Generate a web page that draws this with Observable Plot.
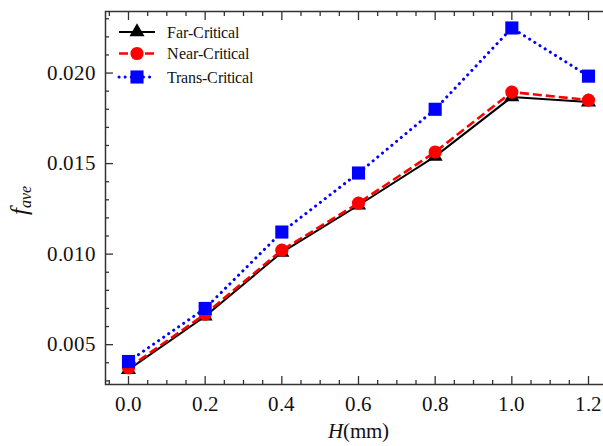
<!DOCTYPE html>
<html>
<head>
<meta charset="utf-8">
<script src="https://cdn.jsdelivr.net/npm/d3@7"></script>
<script src="https://cdn.jsdelivr.net/npm/@observablehq/plot@0.6"></script>
<style>
  @font-face { font-family: "RefSerif"; font-style: normal; font-weight: 400;
    src: local("Liberation Serif"), local("LiberationSerif"), local("LiberationSerif-Regular"), local("Times New Roman"); }
  @font-face { font-family: "RefSerif"; font-style: italic; font-weight: 400;
    src: local("Liberation Serif Italic"), local("LiberationSerif-Italic"), local("Times New Roman Italic"); }
  html, body { margin: 0; padding: 0; background: #fff; overflow: hidden; }
  #chart { width: 603px; height: 446px; overflow: hidden; position: relative; }
  #chart svg { display: block; max-width: none !important; }
  #chart svg text, #chart svg tspan { font-family: "RefSerif", "Liberation Serif", "DejaVu Serif", serif !important; }
</style>
</head>
<body>
<div id="chart"></div>
<script>
// ---- data ----
const H = [0.0, 0.2, 0.4, 0.6, 0.8, 1.0, 1.2];
const farCritical   = [0.00362, 0.00657, 0.01010, 0.01270, 0.01540, 0.01868, 0.01840];
const nearCritical  = [0.00372, 0.00669, 0.01022, 0.01282, 0.01564, 0.01895, 0.01851];
const transCritical = [0.00407, 0.00700, 0.01122, 0.01448, 0.01800, 0.02249, 0.01983];
const seriesNames = ["Far-Critical", "Near-Critical", "Trans-Critical"];

const xTicks = [0.0, 0.2, 0.4, 0.6, 0.8, 1.0, 1.2];
const xTickLabels = ["0.0", "0.2", "0.4", "0.6", "0.8", "1.0", "1.2"];
const xMinorTicks = [-0.05, 0.05, 0.1, 0.15, 0.25, 0.3, 0.35, 0.45, 0.5, 0.55, 0.65, 0.7, 0.75, 0.85, 0.9, 0.95, 1.05, 1.1, 1.15, 1.25];
const yTicks = [0.005, 0.010, 0.015, 0.020];
const yTickLabels = ["0.005", "0.010", "0.015", "0.020"];
const yMinorTicks = [0.003, 0.004, 0.006, 0.007, 0.008, 0.009, 0.011, 0.012, 0.013, 0.014, 0.016, 0.017, 0.018, 0.019, 0.021, 0.022, 0.023];

const rows = (vals) => H.map((h, i) => ({H: h, v: vals[i]}));
const far = rows(farCritical), near = rows(nearCritical), trans = rows(transCritical);

const AX = "#333";

const styles = [
  {color: "#000000", symbol: "triangle", r: 5.6, dash: null, width: 2, cap: "butt"},
  {color: "#ff0000", symbol: "circle", r: 6.6, dash: "9,4", width: 2.6, cap: "butt"},
  {color: "#0000ff", symbol: "square", r: 7.4, dash: "0.1,6", width: 3, cap: "round"}
];
const datasets = [far, near, trans];

const marks = [];
datasets.forEach((d, k) => {
  const s = styles[k];
  marks.push(Plot.line(d, {x: "H", y: "v", stroke: s.color, strokeWidth: s.width,
    strokeDasharray: s.dash, strokeLinecap: s.cap}));
  marks.push(Plot.dot(d, {x: "H", y: "v", symbol: () => s.symbol, r: s.r, fill: s.color, stroke: "none"}));
});

const chart = Plot.plot({
  width: 614,
  height: 446,
  marginLeft: 105,
  marginRight: 3,
  marginTop: 11,
  marginBottom: 62,
  style: {background: "#fff", overflow: "visible", maxWidth: "none"},
  x: {domain: [-0.06, 1.26]},
  y: {domain: [0.0028, 0.0234]},
  symbol: {type: "identity"},
  marks: [
    ...marks,
    // minor ticks
    Plot.axisX(xMinorTicks, {anchor: "bottom", tickSize: -4, text: null, stroke: AX, strokeWidth: 1.3, label: null}),
    Plot.axisX(xMinorTicks, {anchor: "top", tickSize: -4, text: null, stroke: AX, strokeWidth: 1.3, label: null}),
    Plot.axisY(yMinorTicks, {anchor: "left", tickSize: -4, text: null, stroke: AX, strokeWidth: 1.3, label: null}),
    Plot.axisY(yMinorTicks, {anchor: "right", tickSize: -4, text: null, stroke: AX, strokeWidth: 1.3, label: null}),
    // major ticks
    Plot.axisX(xTicks, {anchor: "bottom", tickSize: -8, tickPadding: 20, stroke: AX, strokeWidth: 1.3,
      tickFormat: (d) => xTickLabels[xTicks.indexOf(d)], fontSize: 21, fill: "#111", label: null}),
    Plot.axisX(xTicks, {anchor: "top", tickSize: -8, text: null, stroke: AX, strokeWidth: 1.3, label: null}),
    Plot.axisY(yTicks, {anchor: "left", tickSize: -8, tickPadding: 18, stroke: AX, strokeWidth: 1.3,
      tickFormat: (d) => yTickLabels[yTicks.indexOf(d)], fontSize: 21, fill: "#111", label: null}),
    Plot.axisY(yTicks, {anchor: "right", tickSize: -8, text: null, stroke: AX, strokeWidth: 1.3, label: null}),
    Plot.frame({stroke: AX, strokeWidth: 1.5})
  ]
});

const svg = d3.select(chart);

// axis labels
const xl = svg.append("text")
  .attr("x", 358).attr("y", 438)
  .attr("text-anchor", "middle")
  .attr("font-size", 21).attr("fill", "#111");
xl.append("tspan").attr("font-style", "italic").text("H");
xl.append("tspan").text("(mm)");

const yl = svg.append("text")
  .attr("transform", "translate(27,200) rotate(-90)")
  .attr("text-anchor", "middle")
  .attr("fill", "#111");
yl.append("tspan").attr("font-style", "italic").attr("font-size", 25).text("f");
yl.append("tspan").attr("font-style", "italic").attr("font-size", 16).attr("dy", 4).text("ave");

// legend
const legendYs = [32, 53.5, 77];
const sym = {triangle: d3.symbolTriangle, circle: d3.symbolCircle, square: d3.symbolSquare};
const lg = svg.append("g");
seriesNames.forEach((name, k) => {
  const s = styles[k];
  const y = legendYs[k];
  lg.append("line").attr("x1", 119).attr("x2", 155).attr("y1", y).attr("y2", y)
    .attr("stroke", s.color).attr("stroke-width", s.width)
    .attr("stroke-dasharray", s.dash).attr("stroke-linecap", s.cap);
  lg.append("path").attr("transform", `translate(137,${y})`)
    .attr("d", d3.symbol(sym[s.symbol], Math.PI * s.r * s.r)())
    .attr("fill", s.color);
  lg.append("text").attr("x", 167).attr("y", y + 5.5)
    .attr("text-anchor", "start")
    .attr("font-size", 16).attr("fill", "#111")
    .text(name);
});

document.getElementById("chart").appendChild(chart);
</script>
</body>
</html>
